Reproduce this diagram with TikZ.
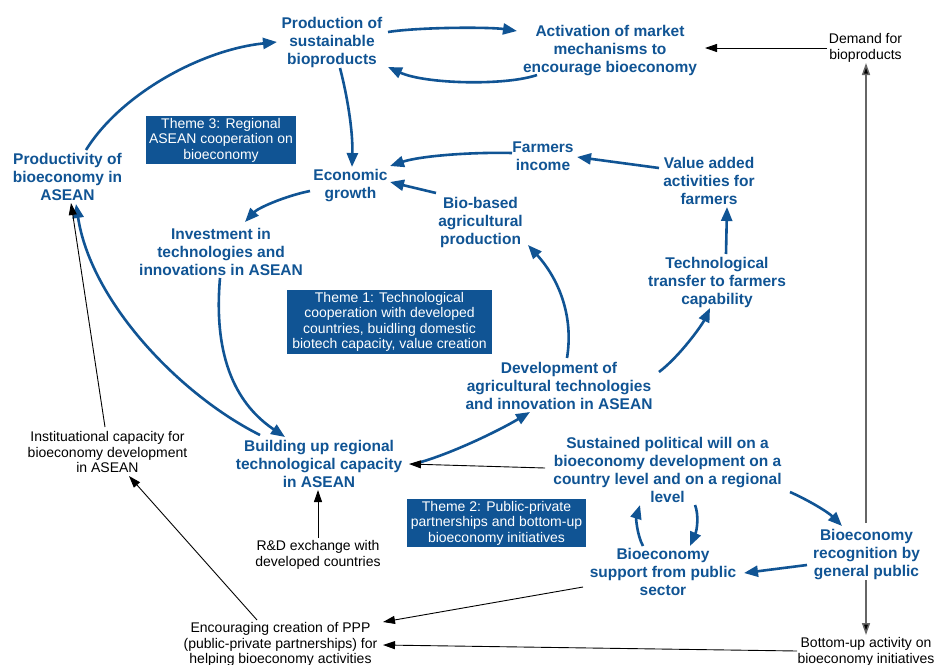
\documentclass[tikz,border=0pt]{standalone}
\usepackage{fontspec}
\setmainfont{Liberation Sans}
\usetikzlibrary{arrows.meta,calc}
\definecolor{bl}{RGB}{16,84,148}
\tikzset{
  bnode/.style={font=\bfseries\fontsize{15.5}{18}\selectfont, text=bl, align=center, inner sep=0pt},
  knode/.style={font=\fontsize{14}{15.5}\selectfont, text=black, align=center, inner sep=0pt},
  theme/.style={fill=bl, text=white, font=\fontsize{14}{15.5}\selectfont, align=center, inner sep=0pt},
  barr/.style={draw=bl, line width=2.6pt, -{Triangle[length=14pt,width=11pt]}},
  karr/.style={draw=black, line width=0.9pt, -{Triangle[length=12pt,width=8pt]}},
  garr/.style={draw=black!60, line width=1.5pt, -{Triangle[length=12pt,width=8pt,fill=black]}}
}
\begin{document}
\begin{tikzpicture}[x=1pt,y=-1pt]
\fill[white] (0,0) rectangle (934,664);
\useasboundingbox (0,0) rectangle (934,664);

% nodes
\node[bnode] (prod) at (332,42) {Production of\\sustainable\\bioproducts};
\node[bnode] (act) at (610,51) {Activation of market\\mechanisms to\\encourage bioeconomy};
\node[knode] (dem) at (865.5,48) {Demand for\\bioproducts};
\node[theme, minimum width=150pt, minimum height=48pt] (th3) at (221,140) {Theme 3: Regional\\ASEAN cooperation on\\bioeconomy};
\node[bnode] (prodv) at (67.5,176.5) {Productivity of\\bioeconomy in\\ASEAN};
\node[bnode] (eco) at (350.5,186) {Economic\\growth};
\node[bnode] (farm) at (543,156) {Farmers\\income};
\node[bnode] (val) at (709,180.5) {Value added\\activities for\\farmers};
\node[bnode] (bio) at (480.5,222) {Bio-based\\agricultural\\production};
\node[bnode] (inv) at (221,251.5) {Investment in\\technologies and\\innovations in ASEAN};
\node[bnode] (tech) at (717,282) {Technological\\transfer to farmers\\capability};
\node[theme, minimum width=205pt, minimum height=64pt] (th1) at (389.5,322) {Theme 1: Technological\\cooperation with developed\\countries, buidling domestic\\biotech capacity, value creation};
\node[bnode] (dev) at (559,385.5) {Development of\\agricultural technologies\\and innovation in ASEAN};
\node[knode] (inst) at (107.5,452) {Instituational capacity for\\bioeconomy development\\in ASEAN};
\node[bnode] (build) at (319,463.5) {Building up regional\\technological capacity\\in ASEAN};
\node[bnode] (sust) at (667.5,470) {Sustained political will on a\\bioeconomy development on a\\country level and on a regional\\level};
\node[theme, minimum width=179pt, minimum height=48pt] (th2) at (496.5,523) {Theme 2: Public-private\\partnerships and bottom-up\\bioeconomy initiatives};
\node[knode] (rd) at (318,555) {R\&D exchange with\\developed countries};
\node[bnode] (recog) at (866.5,555) {Bioeconomy\\recognition by\\general public};
\node[bnode] (supp) at (663,572) {Bioeconomy\\support from public\\sector};
\node[knode] (enc) at (280.5,644.5) {Encouraging creation of PPP\\(public-private partnerships) for\\helping bioeconomy activities};
\node[knode] (bot) at (866,652) {Bottom-up activity on\\bioeconomy initiatives};

% blue connectors
\draw[barr] ($(prodv)+(18.5,-26.5)$) .. controls +(34,-55) and +(-77,8) .. ($(prod)+(-55,0)$);
\draw[barr] ($(prod)+(56,-10)$) .. controls +(32,-5) and +(-27,-4) .. ($(act)+(-93,-20)$);
\draw[barr] ($(act)+(-73,24)$) .. controls +(-32,11) and +(37,17) .. ($(prod)+(56,25)$);
\draw[barr] ($(prod)+(8,26)$) .. controls +(7,27) and +(1,-37) .. ($(eco)+(1.5,-19)$);
\draw[barr] ($(farm)+(-31,-3)$) .. controls +(-42,-1) and +(30,-10) .. ($(eco)+(39.5,-20)$);
\draw[barr] ($(bio)+(-44.5,-29)$) -- ($(eco)+(39.5,-4)$);
\draw[barr] ($(eco)+(-40.5,5)$) .. controls +(-25,5) and +(13,-14) .. ($(inv)+(24,-29.5)$);
\draw[barr] ($(val)+(-50,-12.5)$) -- ($(farm)+(34,1)$);
\draw[barr] ($(tech)+(9,-28)$) -- ($(val)+(18,26.5)$);
\draw[barr] ($(inv)+(-1,26.5)$) .. controls +(-8,92) and +(-40,-27) .. ($(build)+(-34,-26.5)$);
\draw[barr] ($(build)+(-59,-28.5)$) .. controls +(-80,-40) and +(15,98) .. ($(prodv)+(8.5,27.5)$);
\draw[barr] ($(dev)+(8,-27.5)$) .. controls +(7,-43) and +(30,33) .. ($(bio)+(47.5,23)$);
\draw[barr] ($(dev)+(100,-13.5)$) .. controls +(21,-16) and +(-8,17) .. ($(tech)+(-7,26)$);
\draw[barr] ($(build)+(102,-1.5)$) .. controls +(34,-10) and +(-30,18) .. ($(dev)+(-29,26.5)$);
\draw[barr] ($(sust)+(122.5,22)$) .. controls +(18,8) and +(-14,-14) .. ($(recog)+(-24.5,-29)$);
\draw[barr] ($(supp)+(-20,-26)$) .. controls +(-6,-11) and +(-4,13) .. ($(sust)+(-27.5,35)$);
\draw[barr] ($(sust)+(27.5,35)$) .. controls +(4,10) and +(7,-16) .. ($(supp)+(27,-26)$);
\draw[barr] ($(recog)+(-59.5,10)$) -- ($(supp)+(81,1)$);

% black connectors
\draw[karr] ($(sust)+(-122.5,-2)$) -- ($(build)+(90,0.5)$);
\draw[karr] ($(dem)+(-38.5,0)$) -- ($(act)+(95,-3)$);
\draw[karr] ($(rd)+(0,-17)$) -- ($(build)+(-1,26.5)$);
\draw[karr] ($(supp)+(-80,15)$) -- ($(enc)+(102.5,-22.5)$);
\draw[karr] ($(bot)+(-69,-1)$) -- ($(enc)+(102.5,0.5)$);
\draw[karr] ($(enc)+(-23.5,-24.5)$) -- ($(inst)+(21.5,24)$);
\draw[karr] ($(inst)+(-2.5,-25)$) -- ($(prodv)+(3.5,26.5)$);
\draw[garr] ($(recog)+(-0.5,25)$) -- ($(bot)+(0,-17)$);
\draw[garr] ($(recog)+(-0.5,-32)$) -- ($(dem)+(0.5,15)$);
\end{tikzpicture}
\end{document}
